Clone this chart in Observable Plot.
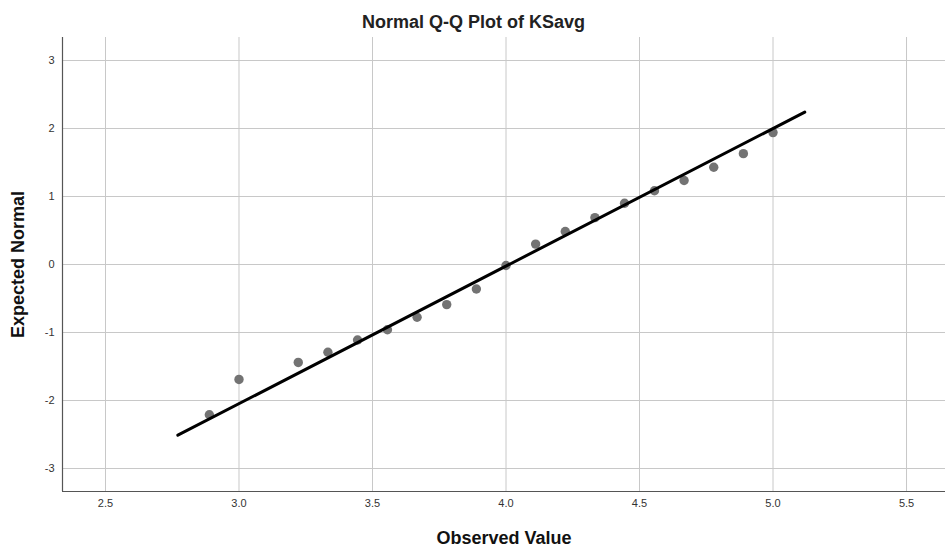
<!DOCTYPE html>
<html>
<head>
<meta charset="utf-8">
<script src="https://cdn.jsdelivr.net/npm/d3@7"></script>
<script src="https://cdn.jsdelivr.net/npm/@observablehq/plot@0.6"></script>
<style>
  body { margin: 0; background: #fff; font-family: "Liberation Sans", Arial, sans-serif; }
  #title { width: 947px; height: 37px; box-sizing: border-box; padding-top: 12px; line-height: 20px;
           text-align: center; font-weight: bold; font-size: 18px; color: #222; }
</style>
</head>
<body>
<div id="title">Normal Q-Q Plot of KSavg</div>
<div id="chart"></div>
<script>
const observed = [2.889, 3.0, 3.222, 3.333, 3.444, 3.556, 3.667, 3.778, 3.889, 4.0, 4.111, 4.222, 4.333, 4.444, 4.556, 4.667, 4.778, 4.889, 5.0];
const expected = [-2.21, -1.69, -1.44, -1.29, -1.11, -0.96, -0.775, -0.59, -0.36, -0.015, 0.30, 0.485, 0.69, 0.90, 1.085, 1.235, 1.43, 1.63, 1.94];
const lineX = [2.771, 5.119];
const lineY = [-2.51, 2.24];
const xTicks = [2.5, 3.0, 3.5, 4.0, 4.5, 5.0, 5.5];
const yTicks = [-3, -2, -1, 0, 1, 2, 3];
const xDomain = [2.339, 5.646];
const yDomain = [-3.338, 3.338];
const xLabel = "Observed Value";
const yLabel = "Expected Normal";

const points = observed.map((x, i) => ({x, y: expected[i]}));
const fitLine = lineX.map((x, i) => ({x, y: lineY[i]}));

const chart = Plot.plot({
  width: 947,
  height: 515,
  marginTop: 0,
  marginLeft: 62,
  marginRight: 2,
  marginBottom: 61,
  style: {fontFamily: "Liberation Sans, Arial, sans-serif", fontSize: "11px", color: "#333", background: "#fff"},
  x: {domain: xDomain},
  y: {domain: yDomain},
  marks: [
    Plot.gridX(xTicks, {stroke: "#c8c8c8", strokeOpacity: 1}),
    Plot.gridY(yTicks, {stroke: "#c8c8c8", strokeOpacity: 1}),
    Plot.axisX(xTicks, {tickSize: 0, tickPadding: 8, tickFormat: d3.format(".1f"), label: null}),
    Plot.axisY(yTicks, {tickSize: 0, tickPadding: 8, tickFormat: d => String(d), label: null}),
    Plot.ruleX([xDomain[0]], {stroke: "#555", strokeWidth: 1.2}),
    Plot.ruleY([yDomain[0]], {stroke: "#555", strokeWidth: 1.2}),
    Plot.dot(points, {x: "x", y: "y", r: 4.7, fill: "#737373", stroke: "none"}),
    Plot.line(fitLine, {x: "x", y: "y", stroke: "#000", strokeWidth: 3}),
    Plot.text([xLabel], {frameAnchor: "bottom", dy: 52, text: d => d, textAnchor: "middle", fontSize: 18, fontWeight: "bold", fill: "#111"}),
    Plot.text([yLabel], {frameAnchor: "left", dx: -44, rotate: -90, text: d => d, textAnchor: "middle", fontSize: 18, fontWeight: "bold", fill: "#111"})
  ]
});
document.getElementById("chart").appendChild(chart);
</script>
</body>
</html>
